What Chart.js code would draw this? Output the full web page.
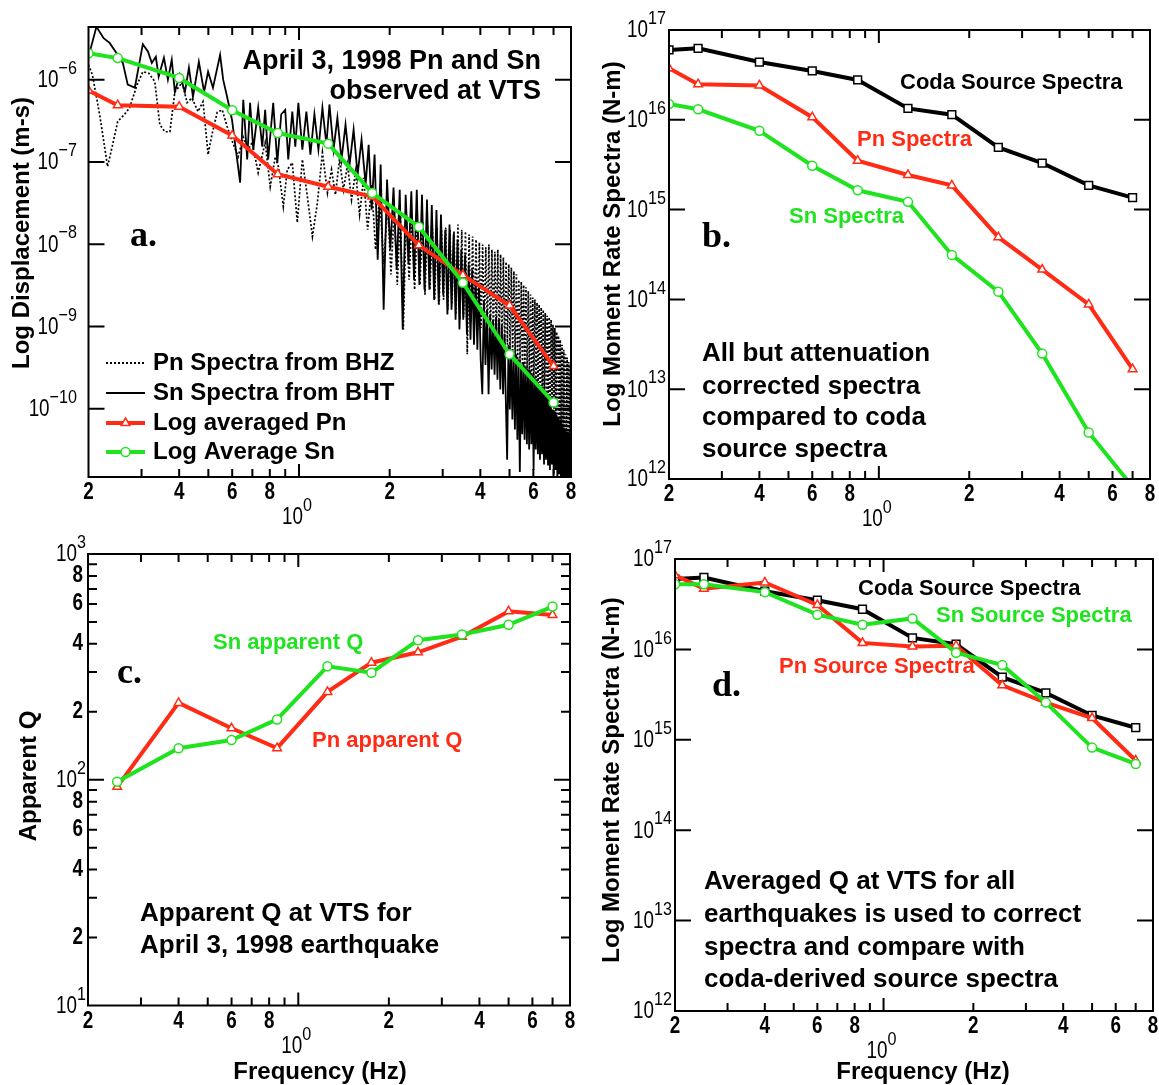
<!DOCTYPE html>
<html>
<head>
<meta charset="utf-8">
<script src="https://cdn.jsdelivr.net/npm/chart.js@4/dist/chart.umd.min.js"></script>
<style>
  html, body { margin: 0; padding: 0; background: #fff; }
  body { width: 1159px; height: 1085px; position: relative; overflow: hidden; }
  canvas { position: absolute; }
</style>
</head>
<body>
<canvas id="ca" width="580" height="540" style="left:0px;top:0px"></canvas>
<canvas id="cb" width="579" height="540" style="left:580px;top:0px"></canvas>
<canvas id="cc" width="580" height="565" style="left:0px;top:520px"></canvas>
<canvas id="cd" width="579" height="565" style="left:580px;top:520px"></canvas>
<script>
// ---------------- DATA ----------------
const freqs  = [0.2, 0.25, 0.4, 0.6, 0.85, 1.25, 1.75, 2.5, 3.5, 5, 7];
const freqsQ = [0.25, 0.4, 0.6, 0.85, 1.25, 1.75, 2.5, 3.5, 5, 7];

// panel a: log-averaged spectra (m-s)
const logAvgPn = [7.4e-7, 4.9e-7, 4.7e-7, 2.1e-7, 7.1e-8, 5.0e-8, 3.8e-8, 9.7e-9, 4.2e-9, 1.8e-9, 3.3e-10];
const logAvgSn = [2.1e-6, 1.83e-6, 1.05e-6, 4.25e-7, 2.25e-7, 1.67e-7, 4.2e-8, 1.63e-8, 3.4e-9, 4.6e-10, 1.19e-10];

// panel a: raw spectra [frequency Hz, displacement m-s]
const snBhtSpectrum = [
 [0.200,1.9e-6],[0.2125,4.4e-6],[0.2245,3.2e-6],[0.235,2.8e-6],[0.248,2.1e-6],[0.260,1.6e-6],[0.270,8.7e-7],[0.285,8.0e-7],
 [0.303,2.7e-6],[0.315,2.2e-6],[0.3245,1.6e-6],[0.3346,1.9e-6],[0.342,1.09e-6],[0.356,1.85e-6],[0.367,1.0e-6],[0.378,1.75e-6],
 [0.387,7.1e-7],[0.402,1.15e-6],[0.418,7.1e-7],[0.431,1.4e-6],[0.4445,6.2e-7],[0.465,1.65e-6],[0.484,7.1e-7],[0.499,1.25e-6],
 [0.518,8.0e-7],[0.547,2.0e-6],[0.560,1.0e-6],[0.577,6.2e-7],[0.599,3.26e-7],[0.6375,5.6e-8],[0.653,5.7e-7],[0.673,1.07e-7],
 [0.688,5.25e-7],[0.705,1.41e-7],[0.732,4.57e-7],[0.755,1.53e-7],[0.772,4.3e-7],[0.790,1.07e-7],[0.821,5.25e-7],[0.847,9.8e-8],
 [0.873,3.8e-7],[0.900,4.3e-7],[0.921,1.07e-7],[0.950,4.1e-7],[0.972,1.53e-7],[0.995,5.25e-7],[1.026,1.41e-7],[1.058,4.1e-7],
 [1.091,1.23e-7],[1.125,3.8e-7],[1.160,1.41e-7],[1.196,4.57e-7],[1.233,1.62e-7],[1.262,5.0e-7],[1.302,1.41e-7],[1.341,3.45e-7],
 [1.384,1.07e-7],[1.427,2.84e-7],[1.472,9.3e-8],[1.518,2.47e-7],[1.565,7.0e-8],[1.613,1.87e-7],[1.664,5.3e-8],[1.703,1.62e-7],
 [1.742,2.63e-8],[1.782,1.23e-7],[1.825,6.5e-9],[1.867,9.3e-8],
 [1.91,1.6e-9],[1.96,6.1e-8],[2.01,8.6e-9],[2.06,4.9e-8],[2.11,4.9e-9],[2.16,4.6e-8],[2.21,9.2e-10],[2.26,4.0e-8],[2.31,5.7e-9],
 [2.36,4.4e-8],[2.41,3.7e-9],[2.46,4.6e-8],[2.51,3.2e-9],[2.56,4.0e-8],[2.61,2.8e-9],[2.66,3.5e-8],[2.71,2.8e-9],[2.76,3.0e-8],
 [2.81,2.1e-9],[2.86,2.6e-8],[2.91,1.85e-9],[2.96,2.3e-8],[3.01,2.44e-9],[3.06,1.5e-8],[3.11,1.4e-9],[3.16,1.73e-8],[3.21,1.6e-9],
 [3.26,1.31e-8],[3.31,1.21e-9],[3.36,1.14e-8],[3.41,9.2e-10],[3.46,8.6e-9],[3.51,1.21e-9],[3.56,7.5e-9],[3.61,8.0e-10],[3.66,5.7e-9],
 [3.71,6.9e-10],[3.76,4.9e-9],[3.81,6.0e-10],[3.86,3.7e-9],[3.91,5.2e-10],[3.96,3.2e-9],[4.01,4.0e-10],[4.06,1.5e-10],[4.11,2.1e-9],
 [4.16,3.4e-10],[4.21,1.6e-9],[4.26,1.5e-10],[4.31,1.4e-9],[4.36,3.0e-10],[4.41,1.21e-9],[4.46,2.6e-10],[4.51,1.3e-9],[4.56,2.26e-10],
 [4.61,1.21e-9],[4.66,1.71e-10],[4.71,1.05e-9],[4.76,1.5e-10],[4.81,8.0e-10],[4.86,1.29e-10],[4.91,2.4e-11],[4.96,6.0e-10],
 [5.01,9.8e-11],[5.06,5.2e-10],[5.11,7.4e-11],[5.16,4.6e-10],[5.21,5.6e-11],[5.26,4.6e-10],[5.31,4.2e-11],[5.36,4.0e-10],
 [5.41,1.7e-11],[5.46,3.4e-10],[5.51,4.9e-11],[5.56,3.7e-10],[5.61,4.2e-11],[5.66,3.2e-10],[5.71,3.7e-11],[5.76,3.0e-10],
 [5.81,3.2e-11],[5.86,2.9e-10],[5.91,3.7e-11],[5.96,2.6e-10],[6.01,1.8e-11],[6.06,2.4e-10],[6.11,3.2e-11],[6.16,2.26e-10],
 [6.21,2.8e-11],[6.26,2.0e-10],[6.31,2.4e-11],[6.36,1.85e-10],[6.41,2.8e-11],[6.46,1.71e-10],[6.51,2.1e-11],[6.56,1.6e-10],
 [6.61,2.4e-11],[6.66,1.5e-10],[6.71,2.1e-11],[6.76,1.29e-10],[6.81,1.8e-11],[6.86,1.12e-10],[6.91,2.1e-11],[6.96,9.8e-11],
 [7.01,1.6e-11],[7.06,9.3e-11],[7.11,1.8e-11],[7.16,8.5e-11],[7.21,1.4e-11],[7.26,7.8e-11],[7.31,1.6e-11],[7.36,7.4e-11],
 [7.41,1.2e-11],[7.46,6.4e-11],[7.51,1.4e-11],[7.56,5.9e-11],[7.61,1.0e-11],[7.66,5.6e-11],[7.71,1.2e-11],[7.76,5.3e-11],
 [7.81,9e-12],[7.86,5.2e-11],[7.91,1.0e-11],[7.96,4.9e-11]
];
const pnBhzSpectrum = [
 [0.200,1.52e-6],[0.206,1.15e-6],[0.2177,3.8e-7],[0.2314,8.8e-8],[0.2405,1.62e-7],[0.250,3.1e-7],[0.2637,3.8e-7],[0.274,4.57e-7],
 [0.290,8.7e-7],[0.303,1.25e-6],[0.317,1.2e-6],[0.332,9.5e-7],[0.345,2.84e-7],[0.3586,2.33e-7],[0.3726,2.33e-7],[0.387,7.1e-7],
 [0.409,9.2e-7],[0.425,5.25e-7],[0.441,6.0e-7],[0.462,4.1e-7],[0.480,5.4e-7],[0.499,1.23e-7],[0.514,2.15e-7],[0.535,4.0e-7],
 [0.556,4.3e-7],[0.577,2.7e-7],[0.6025,1.72e-7],[0.628,1.16e-7],[0.653,2.0e-7],[0.678,1.41e-7],[0.699,1.72e-7],[0.732,7.4e-8],
 [0.772,1.72e-7],[0.8025,5.0e-8],[0.834,1.16e-7],[0.854,8.8e-8],[0.887,2.87e-8],[0.914,8.05e-8],[0.950,9.8e-8],[0.987,1.83e-8],
 [1.026,1.07e-7],[1.066,3.8e-8],[1.108,1.24e-8],[1.151,3.2e-8],[1.196,1.3e-7],[1.243,4.2e-8],[1.282,8.05e-8],[1.321,4.0e-8],
 [1.363,1.07e-7],[1.405,4.6e-8],[1.449,9.3e-8],[1.494,3.48e-8],[1.541,7.6e-8],[1.589,2.3e-8],[1.639,6.4e-8],[1.69,1.5e-8],
 [1.742,5.3e-8],[1.796,8.6e-9],[1.853,4.0e-8],[1.91,5.7e-9],[1.97,3.0e-8],
 [2.02,4.3e-9],[2.07,2.63e-8],[2.12,3.2e-9],[2.17,2.5e-8],[2.22,9.2e-10],[2.27,2.3e-8],[2.32,3.7e-9],[2.37,2.1e-8],[2.42,2.8e-9],
 [2.47,2.0e-8],[2.52,3.2e-9],[2.57,1.9e-8],[2.62,2.44e-9],[2.67,1.73e-8],[2.72,2.8e-9],[2.77,1.73e-8],[2.82,2.12e-9],[2.87,1.6e-8],
 [2.92,1.85e-9],[2.97,1.5e-8],[3.02,2.12e-9],[3.07,1.6e-8],[3.12,1.6e-9],[3.17,1.5e-8],[3.22,1.85e-9],[3.27,1.43e-8],[3.32,1.4e-9],
 [3.37,1.73e-8],[3.42,1.21e-9],[3.47,1.5e-8],[3.52,1.3e-9],[3.57,1.43e-8],[3.62,4.6e-10],[3.67,1.31e-8],[3.72,1.15e-9],[3.77,1.24e-8],
 [3.82,1.05e-9],[3.87,1.14e-8],[3.92,9.2e-10],[3.97,1.05e-8],[4.02,9.6e-10],[4.07,9.9e-9],[4.12,8.0e-10],[4.17,9.2e-9],[4.22,8.6e-10],
 [4.27,9.9e-9],[4.32,7.4e-10],[4.37,8.6e-9],[4.42,8.0e-10],[4.47,8.1e-9],[4.52,6.9e-10],[4.57,8.6e-9],[4.62,6.6e-10],[4.67,7.5e-9],
 [4.72,6.0e-10],[4.77,6.9e-9],[4.82,5.6e-10],[4.87,6.1e-9],[4.92,6.0e-10],[4.97,5.7e-9],[5.02,5.2e-10],[5.07,5.2e-9],[5.12,4.6e-10],
 [5.17,4.7e-9],[5.22,4.2e-10],[5.27,4.3e-9],[5.32,3.7e-10],[5.37,3.7e-9],[5.42,3.4e-10],[5.47,3.5e-9],[5.52,3.2e-10],[5.57,3.2e-9],
 [5.62,2.9e-10],[5.67,3.0e-9],[5.72,2.6e-10],[5.77,2.7e-9],[5.82,2.4e-10],[5.87,2.44e-9],[5.92,2.1e-10],[5.97,2.25e-9],[6.02,2.0e-10],
 [6.07,2.12e-9],[6.12,1.85e-10],[6.17,1.95e-9],[6.22,1.71e-10],[6.27,1.85e-9],[6.32,1.6e-10],[6.37,1.7e-9],[6.42,1.5e-10],[6.47,1.6e-9],
 [6.52,1.39e-10],[6.57,1.46e-9],[6.62,1.29e-10],[6.67,1.35e-9],[6.72,1.22e-10],[6.77,1.3e-9],[6.82,1.12e-10],[6.87,1.21e-9],
 [6.92,1.04e-10],[6.97,1.05e-9],[7.02,9.3e-11],[7.07,9.6e-10],[7.12,7.8e-11],[7.17,8.6e-10],[7.22,7.0e-11],[7.27,7.7e-10],
 [7.32,5.9e-11],[7.37,6.9e-10],[7.42,5.3e-11],[7.47,6.0e-10],[7.52,4.7e-11],[7.57,5.2e-10],[7.62,4.2e-11],[7.67,4.6e-10],
 [7.72,4.0e-11],[7.77,4.2e-10],[7.82,3.7e-11],[7.87,3.7e-10],[7.92,3.5e-11],[7.97,3.4e-10]
];

// panel b: moment rate spectra (N-m), attenuation not corrected
const codaSourceSpectra = [6.0e16, 6.25e16, 4.4e16, 3.5e16, 2.78e16, 1.34e16, 1.14e16, 4.93e15, 3.3e15, 1.86e15, 1.36e15];
const pnSpectraB = [3.75e16, 2.49e16, 2.41e16, 1.07e16, 3.5e15, 2.43e15, 1.86e15, 4.93e14, 2.15e14, 8.8e13, 1.67e13];
const snSpectraB = [1.5e16, 1.31e16, 7.55e15, 3.08e15, 1.64e15, 1.22e15, 3.13e14, 1.22e14, 2.49e13, 3.3e12, 8.2e11];

// panel c: apparent Q
const pnApparentQ = [93, 219, 169, 138, 245, 330, 367, 430, 557, 537];
const snApparentQ = [98, 138, 150, 185, 318, 298, 415, 440, 486, 585];

// panel d: Q-corrected source spectra (N-m)
const pnSourceD = [6.6e16, 4.7e16, 5.5e16, 3.1e16, 1.18e16, 1.08e16, 1.1e16, 4.0e15, 2.58e15, 1.74e15, 5.9e14];
const snSourceD = [5.25e16, 5.25e16, 4.3e16, 2.42e16, 1.87e16, 2.2e16, 9.2e15, 6.7e15, 2.58e15, 8.2e14, 5.4e14];

// ticks
const xTickValues = [0.2, 0.4, 0.6, 0.8, 2, 4, 6, 8];
const xTickLabels = ['2', '4', '6', '8', '2', '4', '6', '8'];
const xMinorTicks = [0.3, 0.5, 0.7, 0.9, 3, 5, 7];
const xCenterTick = 1;          // labelled 10^0
const yDecadesA  = [-6, -7, -8, -9, -10];
const yDecadesBD = [12, 13, 14, 15, 16, 17];
const yDecadesC  = [1, 2, 3];
const yMinorC    = [20, 30, 40, 50, 60, 70, 80, 90, 200, 300, 400, 500, 600, 700, 800, 900];
const yMinorLabelValuesC = [20, 40, 60, 80, 200, 400, 600, 800];
const yMinorLabelsC      = ['2', '4', '6', '8', '2', '4', '6', '8'];

// ---------------- STYLE ----------------
const SANS = '"Liberation Sans", Arial, Helvetica, sans-serif';
const SERIF = '"Liberation Serif", "Times New Roman", serif';
const RED = '#ff2b14', GREEN = '#1fe31f', BLACK = '#000000';

function pts(xs, ys) { return xs.map((x, i) => ({ x: x, y: ys[i] })); }
function pairPts(arr) { return arr.map(p => ({ x: p[0], y: p[1] })); }

function marked(data, color, style, r, order) {
  return { data, borderColor: color, borderWidth: 4, pointStyle: style, pointRadius: r,
    pointBorderColor: color, pointBackgroundColor: '#ffffff', pointBorderWidth: 1.5,
    tension: 0, order };
}

function txt(ctx, t, x, y, font, color, align, baseline) {
  ctx.font = font; ctx.fillStyle = color || '#000';
  ctx.textAlign = align || 'left'; ctx.textBaseline = baseline || 'middle';
  ctx.fillText(t, x, y);
}
function sTxt(ctx, t, x, y, font, sx, align) { // horizontally condensed text
  ctx.save(); ctx.font = font; ctx.fillStyle = '#000';
  const w = ctx.measureText(t).width * sx;
  let x0 = x; if (align === 'center') x0 = x - w / 2; else if (align === 'right') x0 = x - w;
  ctx.translate(x0, y); ctx.scale(sx, 1); ctx.textAlign = 'left'; ctx.textBaseline = 'middle';
  ctx.fillText(t, 0, 0); ctx.restore(); return w;
}
function powLabel(ctx, base, exp, x, y, align) {
  const bf = '23px ' + SANS, ef = '19px ' + SANS;
  ctx.save(); ctx.font = bf; const wb = ctx.measureText(base).width * 0.82;
  ctx.font = ef; const we = ctx.measureText(exp).width * 0.85; ctx.restore();
  const total = wb + we;
  let x0 = align === 'center' ? x - total / 2 : x - total;
  sTxt(ctx, base, x0, y + 1, bf, 0.82, 'left');
  sTxt(ctx, exp, x0 + wb, y - 11, ef, 0.85, 'left');
}

function panelPlugin(o) {
  return {
    id: 'panelDeco',
    afterDatasetsDraw(chart) {
      const { ctx, chartArea: a, scales: { x, y } } = chart;
      ctx.save();
      ctx.strokeStyle = '#000'; ctx.lineWidth = 2; ctx.setLineDash([]);
      ctx.beginPath();
      const xt = xTickValues.concat(xMinorTicks, [xCenterTick]);
      for (const v of xt) {
        const px = x.getPixelForValue(v);
        if (px < a.left + 2 || px > a.right - 2) continue;
        const len = v === xCenterTick ? 13 : 8;
        ctx.moveTo(px, a.bottom); ctx.lineTo(px, a.bottom - len);
        ctx.moveTo(px, a.top); ctx.lineTo(px, a.top + len);
      }
      for (const d of o.yDecades) {
        const py = y.getPixelForValue(Math.pow(10, d));
        if (py < a.top + 2 || py > a.bottom - 2) continue;
        ctx.moveTo(a.left, py); ctx.lineTo(a.left + 16, py);
        ctx.moveTo(a.right, py); ctx.lineTo(a.right - 16, py);
      }
      for (const v of (o.yMinor || [])) {
        const py = y.getPixelForValue(v);
        ctx.moveTo(a.left, py); ctx.lineTo(a.left + 9, py);
        ctx.moveTo(a.right, py); ctx.lineTo(a.right - 9, py);
      }
      ctx.stroke();
      ctx.strokeRect(a.left, a.top, a.right - a.left, a.bottom - a.top);
      ctx.restore();
    },
    afterDraw(chart) {
      const { ctx, chartArea: a, scales: { x, y } } = chart;
      ctx.save();
      // x tick labels
      xTickValues.forEach((v, i) => {
        sTxt(ctx, xTickLabels[i], x.getPixelForValue(v), a.bottom + 16, 'bold 23px ' + SANS, 0.82, 'center');
      });
      powLabel(ctx, '10', '0', x.getPixelForValue(xCenterTick) - 2, a.bottom + 40, 'center');
      // y tick labels
      for (const d of o.yDecades) {
        const py = y.getPixelForValue(Math.pow(10, d));
        powLabel(ctx, '10', String(d).replace('-', '\u2212'), o.yLabelRight, py, 'right');
      }
      if (o.yMinorLabelValues) {
        o.yMinorLabelValues.forEach((v, i) => {
          sTxt(ctx, o.yMinorLabels[i], o.yDigitRight, y.getPixelForValue(v), 'bold 23px ' + SANS, 0.82, 'right');
        });
      }
      // axis titles
      ctx.save();
      ctx.translate(o.yTitle.x, o.yTitle.y); ctx.rotate(-Math.PI / 2);
      txt(ctx, o.yTitle.t, 0, 0, 'bold 24px ' + SANS, '#000', 'center', 'middle');
      ctx.restore();
      if (o.xTitle) txt(ctx, o.xTitle.t, o.xTitle.x, o.xTitle.y, 'bold 24px ' + SANS, '#000', 'center', 'middle');
      // annotations
      for (const t of o.texts) {
        txt(ctx, t.t, t.x, t.y, t.font, t.color || '#000', t.align || 'left', t.baseline || 'middle');
      }
      if (o.legend) o.legend(ctx);
      ctx.restore();
    }
  };
}

function makePanel(id, o) {
  return new Chart(document.getElementById(id), {
    type: 'line',
    data: { datasets: o.datasets },
    options: {
      responsive: false, animation: false, devicePixelRatio: 1,
      layout: { autoPadding: false, padding: { left: 0, top: o.padTop, right: o.padRight, bottom: 0 } },
      plugins: { legend: { display: false }, tooltip: { enabled: false } },
      elements: { line: { tension: 0 } },
      scales: {
        x: { type: 'logarithmic', min: 0.2, max: 8, ticks: { display: false }, grid: { display: false },
             border: { display: false }, afterFit(s) { s.height = o.xHeight; } },
        y: { type: 'logarithmic', min: o.yMin, max: o.yMax, ticks: { display: false }, grid: { display: false },
             border: { display: false }, afterFit(s) { s.width = o.yWidth; } }
      }
    },
    plugins: [panelPlugin(o)]
  });
}

function drawTri(ctx, x, y, r, color) {
  ctx.beginPath();
  ctx.moveTo(x, y - r); ctx.lineTo(x + r * 0.87, y + r * 0.5); ctx.lineTo(x - r * 0.87, y + r * 0.5); ctx.closePath();
  ctx.fillStyle = '#fff'; ctx.fill(); ctx.lineWidth = 1.5; ctx.strokeStyle = color; ctx.stroke();
}
function drawCirc(ctx, x, y, r, color) {
  ctx.beginPath(); ctx.arc(x, y, r, 0, Math.PI * 2);
  ctx.fillStyle = '#fff'; ctx.fill(); ctx.lineWidth = 1.5; ctx.strokeStyle = color; ctx.stroke();
}

const B22 = 'bold 22px ' + SANS, B26 = 'bold 26px ' + SANS, B27 = 'bold 27px ' + SANS, B24 = 'bold 24px ' + SANS;
const TIMES = 'bold 36px ' + SERIF;

// ---------------- PANEL A ----------------
makePanel('ca', {
  padTop: 27, padRight: 9, yWidth: 88.5, xHeight: 63,
  yMin: 1.48e-11, yMax: 4.37e-6, yDecades: yDecadesA, yLabelRight: 77,
  yTitle: { t: 'Log Displacement (m-s)', x: 22, y: 233 },
  datasets: [
    marked(pts(freqs, logAvgSn), GREEN, 'circle', 4.5, 0),
    marked(pts(freqs, logAvgPn), RED, 'triangle', 5, 1),
    { data: pairPts(snBhtSpectrum), borderColor: BLACK, borderWidth: 1.8, pointRadius: 0, tension: 0, order: 2 },
    { data: pairPts(pnBhzSpectrum), borderColor: BLACK, borderWidth: 1.7, borderDash: [2, 2], pointRadius: 0, tension: 0, order: 3 }
  ],
  texts: [
    { t: 'April 3, 1998 Pn and Sn', x: 541, y: 62, font: B27, align: 'right' },
    { t: 'observed at VTS', x: 541, y: 92, font: B27, align: 'right' },
    { t: 'a.', x: 130, y: 246, font: TIMES, baseline: 'alphabetic' },
    { t: 'Pn Spectra from BHZ', x: 153, y: 363, font: B24 },
    { t: 'Sn Spectra from BHT', x: 153, y: 393, font: B24 },
    { t: 'Log averaged Pn', x: 153, y: 423, font: B24 },
    { t: 'Log Average Sn', x: 153, y: 452, font: B24 }
  ],
  legend(ctx) {
    ctx.save();
    ctx.strokeStyle = BLACK; ctx.lineWidth = 2;
    ctx.setLineDash([2, 2]); ctx.beginPath(); ctx.moveTo(106, 363); ctx.lineTo(145, 363); ctx.stroke();
    ctx.setLineDash([]); ctx.beginPath(); ctx.moveTo(106, 393); ctx.lineTo(145, 393); ctx.stroke();
    ctx.lineWidth = 4; ctx.strokeStyle = RED; ctx.beginPath(); ctx.moveTo(106, 423); ctx.lineTo(145, 423); ctx.stroke();
    drawTri(ctx, 125.5, 423, 5, RED);
    ctx.lineWidth = 4; ctx.strokeStyle = GREEN; ctx.beginPath(); ctx.moveTo(106, 452); ctx.lineTo(145, 452); ctx.stroke();
    drawCirc(ctx, 125.5, 452, 4.5, GREEN);
    ctx.restore();
  }
});

// ---------------- PANEL B ----------------
makePanel('cb', {
  padTop: 30, padRight: 9, yWidth: 89, xHeight: 61,
  yMin: 1e12, yMax: 1e17, yDecades: yDecadesBD, yLabelRight: 86,
  yTitle: { t: 'Log Moment Rate Spectra (N-m)', x: 33, y: 244 },
  datasets: [
    marked(pts(freqs, codaSourceSpectra), BLACK, 'rect', 5.5, 0),
    marked(pts(freqs, pnSpectraB), RED, 'triangle', 5, 1),
    marked(pts(freqs, snSpectraB), GREEN, 'circle', 4.5, 2)
  ],
  texts: [
    { t: 'Coda Source Spectra', x: 320, y: 83, font: B22 },
    { t: 'Pn Spectra', x: 277, y: 140, font: B22, color: RED },
    { t: 'Sn Spectra', x: 209, y: 217, font: B22, color: GREEN },
    { t: 'b.', x: 122, y: 247, font: TIMES, baseline: 'alphabetic' },
    { t: 'All but attenuation', x: 122, y: 354, font: B26 },
    { t: 'corrected spectra', x: 122, y: 387, font: B26 },
    { t: 'compared to coda', x: 122, y: 418, font: B26 },
    { t: 'source spectra', x: 122, y: 450, font: B26 }
  ]
});

// ---------------- PANEL C ----------------
makePanel('cc', {
  padTop: 34, padRight: 10, yWidth: 88, xHeight: 79.5,
  yMin: 10, yMax: 1000, yDecades: yDecadesC, yMinor: yMinorC, yLabelRight: 86,
  yMinorLabelValues: yMinorLabelValuesC, yMinorLabels: yMinorLabelsC, yDigitRight: 83,
  yTitle: { t: 'Apparent Q', x: 29, y: 256 },
  xTitle: { t: 'Frequency (Hz)', x: 320, y: 552 },
  datasets: [
    marked(pts(freqsQ, snApparentQ), GREEN, 'circle', 4.5, 0),
    marked(pts(freqsQ, pnApparentQ), RED, 'triangle', 5, 1)
  ],
  texts: [
    { t: 'Sn apparent Q', x: 213, y: 123, font: B22, color: GREEN },
    { t: 'Pn apparent Q', x: 312, y: 221, font: B22, color: RED },
    { t: 'c.', x: 117, y: 163, font: TIMES, baseline: 'alphabetic' },
    { t: 'Apparent Q at VTS for', x: 140, y: 394, font: B26 },
    { t: 'April 3, 1998 earthquake', x: 140, y: 426, font: B26 }
  ]
});

// ---------------- PANEL D ----------------
makePanel('cd', {
  padTop: 39, padRight: 6, yWidth: 95, xHeight: 74,
  yMin: 1e12, yMax: 1e17, yDecades: yDecadesBD, yLabelRight: 92,
  yTitle: { t: 'Log Moment Rate Spectra (N-m)', x: 32, y: 260 },
  xTitle: { t: 'Frequency (Hz)', x: 343, y: 552 },
  datasets: [
    marked(pts(freqs, snSourceD), GREEN, 'circle', 4.5, 0),
    marked(pts(freqs, pnSourceD), RED, 'triangle', 5, 1),
    marked(pts(freqs, codaSourceSpectra), BLACK, 'rect', 5.5, 2)
  ],
  texts: [
    { t: 'Coda Source Spectra', x: 278, y: 69, font: B22 },
    { t: 'Sn Source Spectra', x: 356, y: 96, font: B22, color: GREEN },
    { t: 'Pn Source Spectra', x: 199, y: 147, font: B22, color: RED },
    { t: 'd.', x: 132, y: 176, font: TIMES, baseline: 'alphabetic' },
    { t: 'Averaged Q at VTS for all', x: 124, y: 362, font: B26 },
    { t: 'earthquakes is used to correct', x: 124, y: 395, font: B26 },
    { t: 'spectra and compare with', x: 124, y: 428, font: B26 },
    { t: 'coda-derived source spectra', x: 124, y: 460, font: B26 }
  ]
});
</script>
</body>
</html>
